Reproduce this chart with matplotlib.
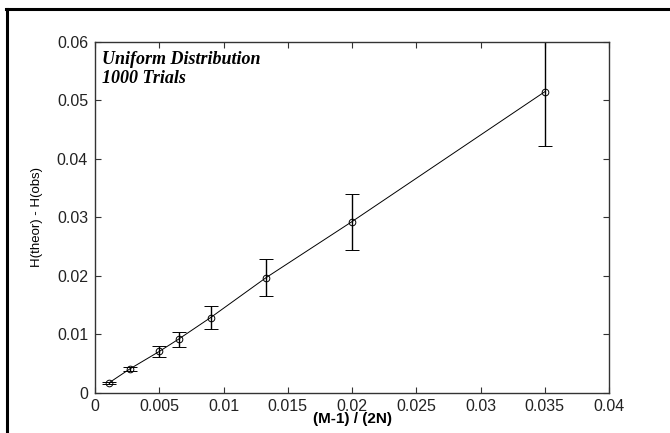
import matplotlib.pyplot as plt
from matplotlib.lines import Line2D

plt.rcParams["font.family"] = ["Liberation Sans", "DejaVu Sans"]

# (M-1)/(2N) and observed entropy bias, with error bars
x_vals = [0.0011, 0.0027, 0.0050, 0.0065, 0.0090, 0.0133, 0.0200, 0.0350]
y_vals = [0.00175, 0.0041, 0.0071, 0.0092, 0.0129, 0.0197, 0.0293, 0.0515]
y_err = [0.0002, 0.0003, 0.0010, 0.0013, 0.0019, 0.0032, 0.0048, 0.0092]

x_ticks = [0, 0.005, 0.01, 0.015, 0.02, 0.025, 0.03, 0.035, 0.04]
x_tick_labels = ["0", "0.005", "0.01", "0.015", "0.02", "0.025", "0.03", "0.035", "0.04"]
y_ticks = [0, 0.01, 0.02, 0.03, 0.04, 0.05, 0.06]
y_tick_labels = ["0", "0.01", "0.02", "0.03", "0.04", "0.05", "0.06"]

fig = plt.figure(figsize=(6.7, 4.33), dpi=100)
ax = fig.add_axes([0.1418, 0.0924, 0.7672, 0.8106])

ax.errorbar(x_vals, y_vals, yerr=y_err, color="black", linewidth=0.7,
            elinewidth=1.0, capsize=5, capthick=1.0,
            marker="o", markersize=4.8, markerfacecolor="none",
            markeredgewidth=0.7)

ax.set_xlim(0, 0.04)
ax.set_ylim(0, 0.06)
ax.set_xticks(x_ticks)
ax.set_xticklabels(x_tick_labels)
ax.set_yticks(y_ticks)
ax.set_yticklabels(y_tick_labels)
ax.tick_params(direction="in", top=True, right=True, length=4, width=0.8,
               labelsize=11.5, color="#333333", labelcolor="#222222")
ax.tick_params(axis="x", pad=4)
ax.tick_params(axis="y", pad=5)
for s in ax.spines.values():
    s.set_linewidth(1.0)
    s.set_color("#333333")

ax.set_xlabel("(M-1) / (2N)", fontsize=11, fontweight="bold", labelpad=-1)
ax.set_ylabel("H(theor) - H(obs)", fontsize=9.5, labelpad=10)

ax.text(0.014, 0.975, "Uniform Distribution\n1000 Trials", transform=ax.transAxes,
        ha="left", va="top", fontsize=13, fontweight="bold", fontstyle="italic",
        family="Liberation Serif", linespacing=1.15)

# outer frame lines (top and left) as in the source image
fig.add_artist(Line2D([0.009, 1.0], [0.979, 0.979], color="black", linewidth=2.2,
                      transform=fig.transFigure))
fig.add_artist(Line2D([0.011, 0.011], [0.0, 0.979], color="black", linewidth=2.2,
                      transform=fig.transFigure))

fig.savefig("out.png", dpi=100)
